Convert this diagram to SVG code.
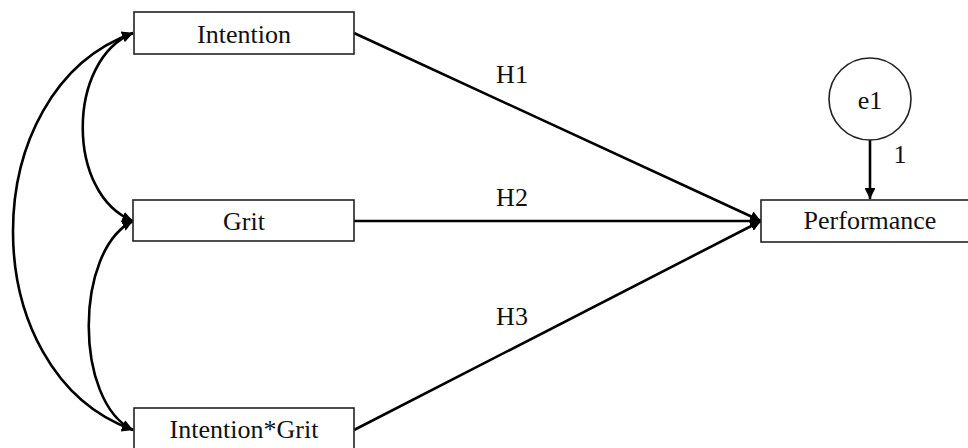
<svg xmlns="http://www.w3.org/2000/svg" width="968" height="448" viewBox="0 0 968 448">
<style>
.box{fill:#fff;stroke:#222;stroke-width:1.6}
.lbl{font-family:"Liberation Serif","Times New Roman",serif;font-size:26px;fill:#111;text-anchor:middle}
.edge{fill:none;stroke:#000;stroke-width:2.6}
</style>
<defs>
<marker id="ah" viewBox="0 0 10 10" refX="10" refY="5" markerWidth="4.2" markerHeight="4.2" orient="auto-start-reverse" markerUnits="strokeWidth">
<path d="M0,0 L10,5 L0,10 z" fill="#000"/>
</marker>
</defs>
<rect width="968" height="448" fill="#fff"/>
<g id="connectors">
<path class="edge" d="M133,33 C66,60 66,195 133,221" marker-start="url(#ah)" marker-end="url(#ah)"/>
<path class="edge" d="M133,221 C74,250 74,402 133,430" marker-start="url(#ah)" marker-end="url(#ah)"/>
<path class="edge" d="M133,33 C-27,90 -27,373 133,430" marker-start="url(#ah)" marker-end="url(#ah)"/>
<path class="edge" d="M354,33 L761,221" marker-end="url(#ah)"/>
<path class="edge" d="M354,221 L761,221" marker-end="url(#ah)"/>
<path class="edge" d="M354,430 L761,221" marker-end="url(#ah)"/>
<path class="edge" d="M870,140 L870,199" marker-end="url(#ah)"/>
<text class="lbl" x="512" y="83" font-size="25">H1</text>
<text class="lbl" x="512" y="206" font-size="25">H2</text>
<text class="lbl" x="512" y="325" font-size="25">H3</text>
<text class="lbl" x="900" y="163" font-size="25">1</text>
</g>
<g id="intention">
<rect class="box" x="134" y="12" width="220" height="42"/>
<text class="lbl" x="244" y="43">Intention</text>
</g>
<g id="grit">
<rect class="box" x="133" y="200" width="221" height="41"/>
<text class="lbl" x="244" y="230">Grit</text>
</g>
<g id="intention-grit">
<rect class="box" x="134" y="408" width="220" height="44"/>
<text class="lbl" x="244" y="438">Intention*Grit</text>
</g>
<g id="performance">
<rect class="box" x="761" y="200" width="215" height="42"/>
<text class="lbl" x="870" y="229">Performance</text>
</g>
<g id="e1">
<circle cx="870" cy="99" r="41" fill="#fff" stroke="#222" stroke-width="1.6"/>
<text class="lbl" x="870" y="109">e1</text>
</g>
</svg>
